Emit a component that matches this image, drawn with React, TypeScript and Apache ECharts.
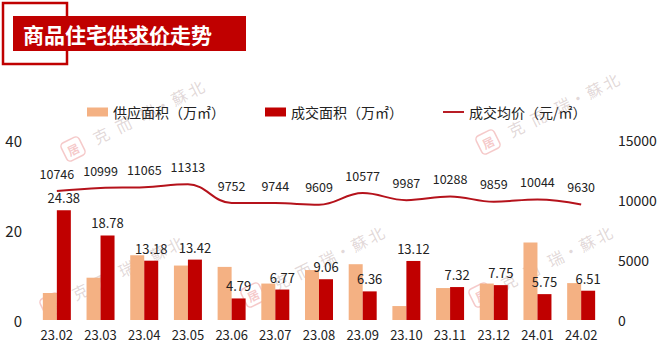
import React, { useEffect, useRef } from 'react';
import * as echarts from 'echarts';

const categories = ['23.02', '23.03', '23.04', '23.05', '23.06', '23.07', '23.08', '23.09', '23.10', '23.11', '23.12', '24.01', '24.02'];
const supplyArea = [6.0, 9.4, 14.4, 12.1, 11.8, 8.1, 11.1, 12.4, 3.1, 7.1, 8.1, 17.2, 8.2];
const dealArea = [24.38, 18.78, 13.18, 13.42, 4.79, 6.77, 9.06, 6.36, 13.12, 7.32, 7.75, 5.75, 6.51];
const avgPrice = [10746, 10999, 11065, 11313, 9752, 9744, 9609, 10577, 9987, 10288, 9859, 10044, 9630];

const leftAxis = { min: 0, max: 40, interval: 20 };
const rightAxis = { min: 0, max: 15000, interval: 5000 };

const seriesNames = ['供应面积（万㎡）', '成交面积（万㎡）', '成交均价（元/㎡）'];
const titleText = '商品住宅供求价走势';
const watermarkChars = ['克', '而', '瑞', '·', '蘇', '北'];
const watermarkOffsets = [25, 50, 77, 94, 112, 131];
const watermarkAnchors = [
  [73, 149],
  [52, 305],
  [253, 295],
  [488, 142],
  [481, 295],
];

const FONT = '"Noto Sans CJK SC", "Microsoft YaHei", sans-serif';
const RED = '#C00000';
const LINE_RED = '#B5121B';

function watermark(x: number, y: number) {
  const pink = 'rgba(225, 90, 90, 0.33)';
  const grey = 'rgba(165, 135, 135, 0.32)';
  return {
    type: 'group',
    x,
    y,
    rotation: 0.46,
    z: 100,
    silent: true,
    children: [
      {
        type: 'rect',
        shape: { x: -10, y: -10, width: 20, height: 20, r: 4 },
        style: { fill: 'none', stroke: pink, lineWidth: 1.5 },
      },
      {
        type: 'text',
        x: 0,
        y: 0,
        style: { text: '居', fill: pink, font: `bold 12px ${FONT}`, align: 'center', verticalAlign: 'middle' },
      },
      ...watermarkChars.map((c, i) => ({
        type: 'text',
        x: watermarkOffsets[i] + 6,
        y: 0,
        style: { text: c, fill: grey, font: `16px ${FONT}`, align: 'center', verticalAlign: 'middle' },
      })),
    ],
  };
}

export default function App() {
  const ref = useRef<HTMLDivElement>(null);
  useEffect(() => {
    if (!ref.current) return;
    const chart = echarts.init(ref.current, undefined, { renderer: 'svg' });
    chart.setOption({
      animation: false,
      backgroundColor: '#ffffff',
      textStyle: { fontFamily: FONT },
      grid: { left: 35, right: 57, top: 140, bottom: 23 },
      legend: {
        left: 82,
        top: 100,
        itemGap: 40,
        itemWidth: 21,
        itemHeight: 9,
        textStyle: { fontSize: 14, color: '#222', fontFamily: FONT },
        data: [
          { name: seriesNames[0], icon: 'rect' },
          { name: seriesNames[1], icon: 'rect' },
          { name: seriesNames[2], icon: 'path://M0,0 L44,0 L44,4 L0,4 Z', itemStyle: { color: LINE_RED, opacity: 1 } },
        ],
      },
      xAxis: {
        type: 'category',
        data: categories,
        axisLine: { show: false },
        axisTick: { show: false },
        axisLabel: { color: '#222', fontSize: 13, margin: 8, fontFamily: FONT, interval: 0 },
      },
      yAxis: [
        {
          type: 'value',
          min: leftAxis.min,
          max: leftAxis.max,
          interval: leftAxis.interval,
          splitLine: { show: false },
          axisLine: { show: false },
          axisTick: { show: false },
          axisLabel: { color: '#222', fontSize: 15, margin: 13, fontFamily: FONT },
        },
        {
          type: 'value',
          min: rightAxis.min,
          max: rightAxis.max,
          interval: rightAxis.interval,
          splitLine: { show: false },
          axisLine: { show: false },
          axisTick: { show: false },
          axisLabel: { color: '#222', fontSize: 14, margin: 15, fontFamily: FONT, formatter: (v: number) => String(v) },
        },
      ],
      series: [
        {
          name: seriesNames[0],
          type: 'bar',
          data: supplyArea,
          barWidth: 14,
          barGap: '0%',
          itemStyle: { color: '#F4B183' },
        },
        {
          name: seriesNames[1],
          type: 'bar',
          data: dealArea,
          barWidth: 14,
          barGap: '0%',
          itemStyle: { color: RED },
          label: { show: true, position: 'top', distance: 6, color: '#222', fontSize: 13, fontFamily: FONT },
        },
        {
          name: seriesNames[2],
          type: 'line',
          yAxisIndex: 1,
          data: avgPrice,
          smooth: 0.4,
          symbol: 'circle',
          symbolSize: 1,
          showSymbol: true,
          lineStyle: { color: LINE_RED, width: 2 },
          itemStyle: { color: 'rgba(0,0,0,0)', borderWidth: 0 },
          label: { show: true, position: 'top', distance: 11, color: '#222', fontSize: 12.5, fontFamily: FONT },
        },
      ],
      graphic: [
        {
          type: 'rect',
          shape: { x: 3, y: 3, width: 64, height: 61 },
          style: { fill: 'none', stroke: RED, lineWidth: 2.5 },
          z: 10,
        },
        {
          type: 'rect',
          shape: { x: 13, y: 16, width: 233, height: 35 },
          style: { fill: RED },
          z: 11,
        },
        {
          type: 'text',
          x: 23,
          y: 33.5,
          z: 12,
          style: { text: titleText, fill: '#ffffff', font: `bold 21px ${FONT}`, verticalAlign: 'middle' },
        },
        {
          type: 'line',
          shape: { x1: 107, y1: 44, x2: 171, y2: 44 },
          style: { stroke: '#ffffff', lineWidth: 1.5 },
          z: 12,
        },
        ...watermarkAnchors.map(([x, y]) => watermark(x, y)),
      ],
    });
    return () => chart.dispose();
  }, []);
  return <div ref={ref} style={{ position: 'fixed', left: 0, top: 0, width: 660, height: 343 }} />;
}
